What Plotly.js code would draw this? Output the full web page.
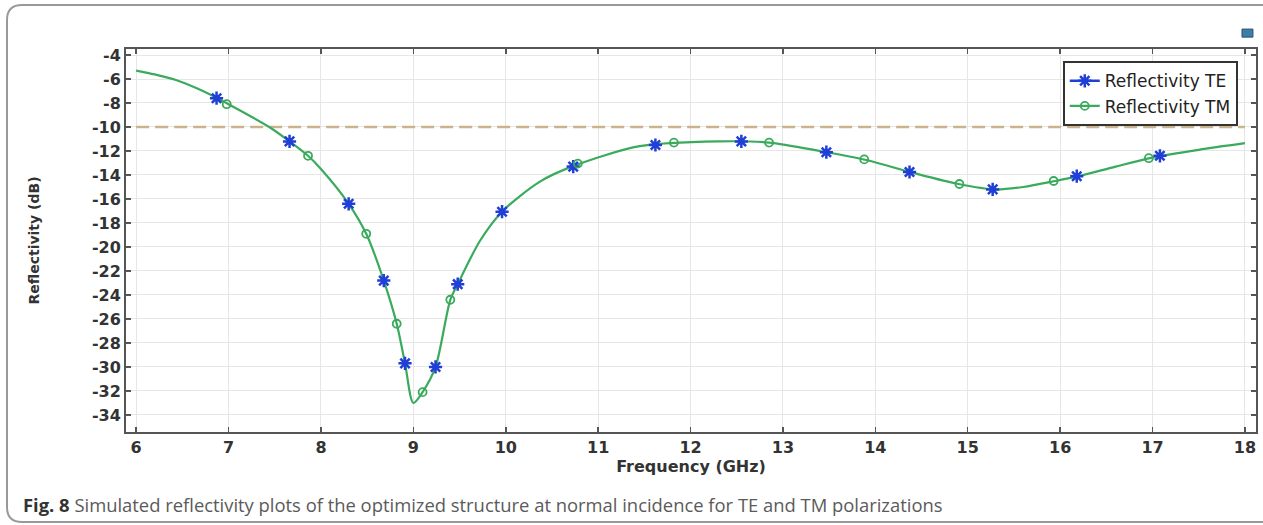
<!DOCTYPE html>
<html>
<head>
<meta charset="utf-8">
<script src="https://cdn.plot.ly/plotly-3.0.1.min.js"></script>
<style>html,body{margin:0;padding:0;background:#fff;}#chart{width:1263px;height:525px;}</style>
</head>
<body>
<div id="chart"></div>
<script>
// Continuous simulated curve
const curveFreq = [6.0, 6.2, 6.43, 6.65, 6.88, 7.0, 7.44, 7.66, 7.86, 8.0, 8.3, 8.49, 8.68, 8.82, 8.91, 9.0, 9.1, 9.24, 9.4, 9.48, 9.72, 9.96, 10.37, 10.75, 11.45, 12.3, 12.85, 13.4, 13.9, 14.4, 14.9, 15.3, 15.6, 15.95, 16.2, 16.6, 17.0, 17.5, 18.0];
const curveRefl = [-5.3, -5.62, -6.08, -6.75, -7.6, -8.1, -10.0, -11.2, -12.4, -13.5, -16.4, -18.9, -22.8, -26.4, -29.7, -33.0, -32.1, -30.0, -24.4, -23.1, -19.5, -17.06, -14.55, -13.2, -11.6, -11.2, -11.3, -12.0, -12.75, -13.8, -14.75, -15.2, -15.0, -14.5, -14.1, -13.3, -12.55, -11.9, -11.35];
// TE markers
const teFreq = [6.87, 7.66, 8.30, 8.68, 8.91, 9.24, 9.48, 9.96, 10.73, 11.62, 12.55, 13.47, 14.37, 15.27, 16.18, 17.08];
const teRefl = [-7.6, -11.2, -16.4, -22.8, -29.7, -30.0, -23.1, -17.06, -13.3, -11.5, -11.2, -12.1, -13.75, -15.2, -14.1, -12.4];
// TM markers
const tmFreq = [6.98, 7.86, 8.49, 8.82, 9.10, 9.40, 10.78, 11.82, 12.85, 13.88, 14.91, 15.93, 16.96];
const tmRefl = [-8.1, -12.4, -18.9, -26.4, -32.1, -24.4, -13.05, -11.3, -11.3, -12.7, -14.75, -14.5, -12.6];
// -10 dB threshold
const thrFreq = [6, 18];
const thrRefl = [-10, -10];

const xTicks = [6,7,8,9,10,11,12,13,14,15,16,17,18];
const yTicks = [-4,-6,-8,-10,-12,-14,-16,-18,-20,-22,-24,-26,-28,-30,-32,-34];

const blue = '#1f3fd6';
const green = '#3aaa5c';

const traces = [
  {x: thrFreq, y: thrRefl, mode: 'lines', line: {color: '#c9b48c', width: 2.5, dash: '13px,6px'}, showlegend: false, hoverinfo: 'skip'},
  {x: curveFreq, y: curveRefl, mode: 'lines', line: {color: green, width: 2.2, shape: 'spline', smoothing: 0.8}, showlegend: false},
  {x: teFreq, y: teRefl, mode: 'markers', marker: {symbol: 'asterisk-open', size: 11, color: blue, line: {color: blue, width: 2.5}}, showlegend: false},
  {x: tmFreq, y: tmRefl, mode: 'markers', marker: {symbol: 'circle-open', size: 8, color: green, line: {color: green, width: 1.8}}, showlegend: false},
  {x: [null], y: [null], mode: 'lines+markers', name: 'Reflectivity TE', line: {color: blue, width: 2.5}, marker: {symbol: 'asterisk-open', size: 11, color: blue, line: {color: blue, width: 2.5}}},
  {x: [null], y: [null], mode: 'lines+markers', name: 'Reflectivity TM', line: {color: green, width: 2.2}, marker: {symbol: 'circle-open', size: 8, color: green, line: {color: green, width: 1.8}}}
];

const layout = {
  width: 1263, height: 525,
  paper_bgcolor: '#fff', plot_bgcolor: '#fff',
  margin: {l: 126, r: 7, t: 49, b: 93},
  showlegend: true,
  legend: {
    x: 0.829, y: 0.968, xanchor: 'left', yanchor: 'top',
    bgcolor: '#fff', bordercolor: '#333', borderwidth: 2,
    font: {family: 'DejaVu Sans', size: 17, color: '#222'},
    itemwidth: 30, tracegroupgap: 0
  },
  xaxis: {
    range: [5.89, 18.12], tickvals: xTicks, ticktext: xTicks.map(String),
    showgrid: true, gridcolor: '#e6e6e6', gridwidth: 1, zeroline: false,
    showline: true, linecolor: '#555', linewidth: 2, mirror: 'ticks',
    ticks: 'inside', ticklen: 5, tickcolor: '#555', tickwidth: 1.5,
    tickfont: {family: 'DejaVu Sans', size: 16, color: '#333', weight: 'bold'},
    title: {text: 'Frequency (GHz)', font: {family: 'DejaVu Sans', size: 16, color: '#333', weight: 'bold'}, standoff: 1}
  },
  yaxis: {
    range: [-35.42, -3.5], tickvals: yTicks, ticktext: yTicks.map(String),
    showgrid: true, gridcolor: '#e6e6e6', gridwidth: 1, zeroline: false,
    showline: true, linecolor: '#555', linewidth: 2, mirror: 'ticks',
    ticks: 'inside', ticklen: 5, tickcolor: '#555', tickwidth: 1.5,
    tickfont: {family: 'DejaVu Sans', size: 16, color: '#333', weight: 'bold'},
    title: {text: 'Reflectivity (dB)', font: {family: 'DejaVu Sans', size: 14, color: '#333', weight: 'bold'}, standoff: 49}
  },
  shapes: [
    {type: 'path', xref: 'paper', yref: 'paper',
     path: 'M -0.1053,1.076 Q -0.1053,1.1149 -0.092,1.1149 L 1.01,1.1149 L 1.01,-0.235 L -0.092,-0.235 Q -0.1053,-0.235 -0.1053,-0.196 Z',
     line: {color: '#999', width: 2}, fillcolor: 'rgba(0,0,0,0)', layer: 'below'},
    {type: 'rect', xref: 'paper', yref: 'paper', x0: 0.9876, x1: 0.9973, y0: 1.031, y1: 1.052,
     line: {color: '#2b4f73', width: 1}, fillcolor: '#3c7fa6'}
  ],
  annotations: [
    {xref: 'paper', yref: 'paper', x: -0.0925, y: -0.19, xanchor: 'left', yanchor: 'middle', showarrow: false,
     text: '<b style="color:#333">Fig. 8</b> Simulated reflectivity plots of the optimized structure at normal incidence for TE and TM polarizations',
     font: {family: 'Open Sans', size: 18.4, color: '#5a5a5a'}}
  ]
};

Plotly.newPlot('chart', traces, layout, {displayModeBar: false, staticPlot: true});
</script>
</body>
</html>
